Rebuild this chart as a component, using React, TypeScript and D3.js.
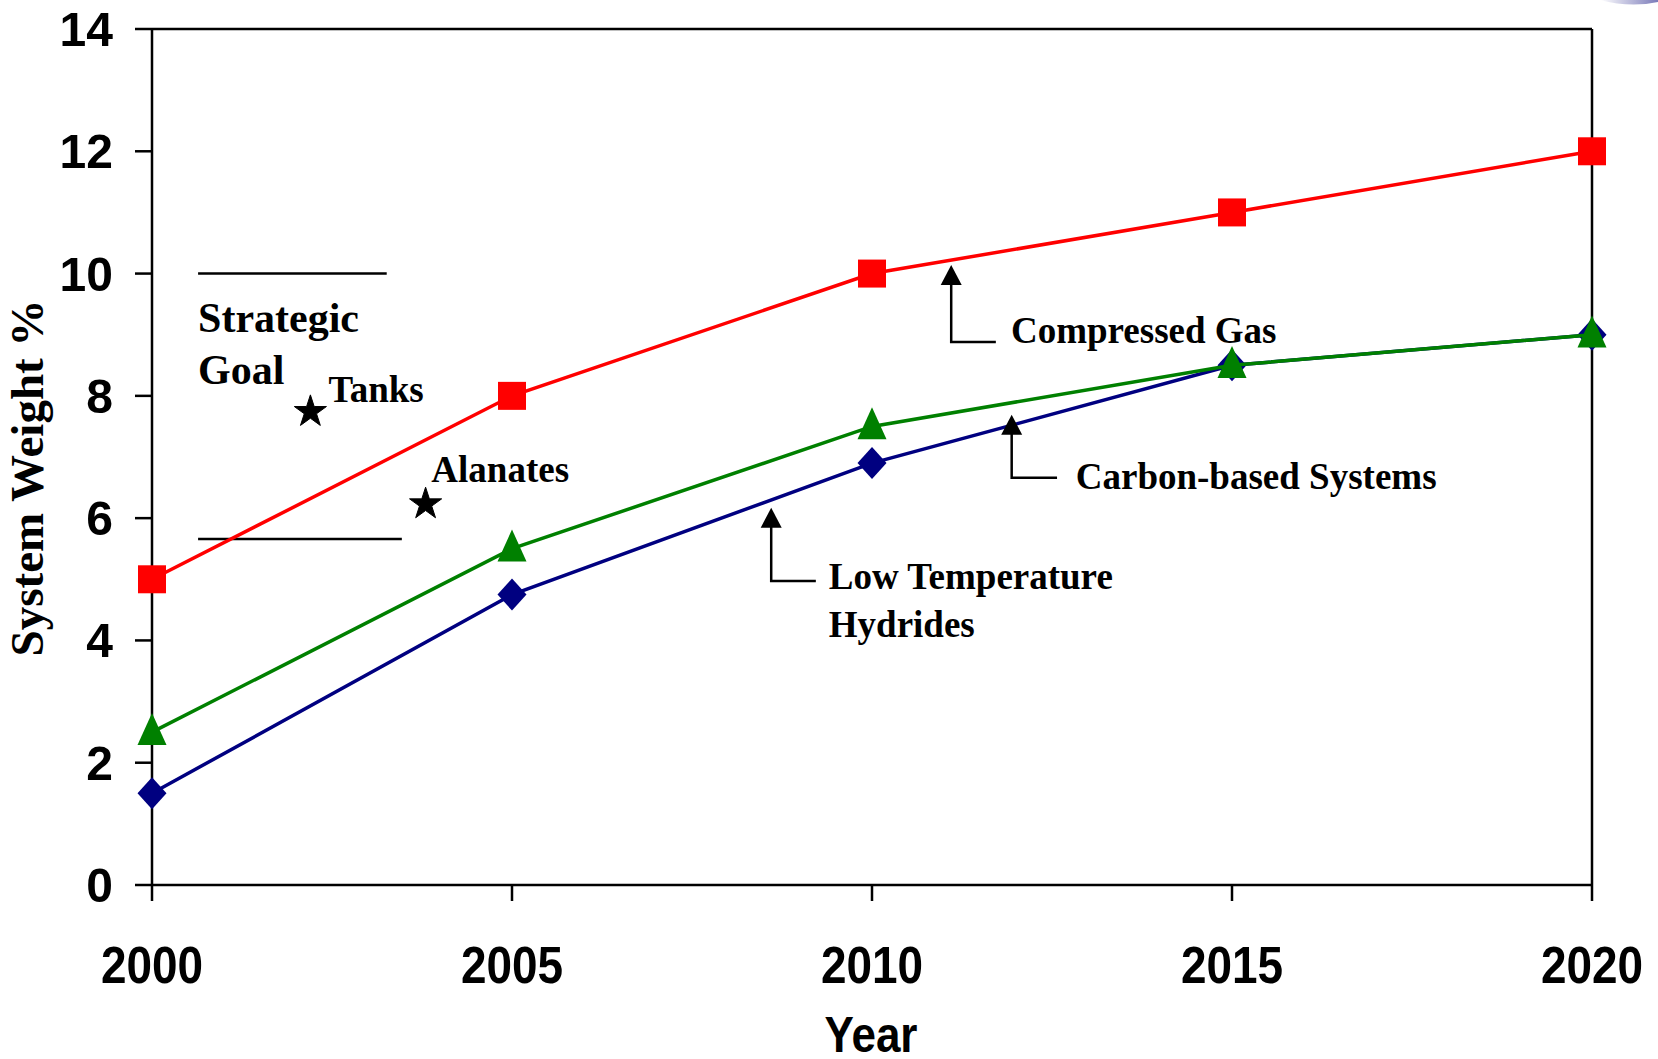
import React from "react";
import * as d3 from "d3";

// series values
const years = [2000, 2005, 2010, 2015, 2020];
const compressedGas = [5, 8, 10, 11, 12];
const carbonBased = [2.5, 5.5, 7.5, 8.5, 9];
const lowTempHydrides = [1.5, 4.75, 6.9, 8.5, 9];
const yTicks = [0, 2, 4, 6, 8, 10, 12, 14];

// strategic goal band and goal points
const goalBand = [10, 5.66];
const goalBandYears = [[2000.64, 2003.26], [2000.64, 2003.47]];
const goalStars = [
  { name: "Tanks", year: 2002.2, value: 7.74 },
  { name: "Alanates", year: 2003.8, value: 6.23 },
];

const width = 1658;
const height = 1059;
const margin = { left: 152, right: 66, top: 29, bottom: 174 };

const SANS = "'Liberation Sans', Arial, Helvetica, sans-serif";
const SERIF = "'Liberation Serif', 'Times New Roman', Times, serif";

const x = d3
  .scaleLinear()
  .domain([2000, 2020])
  .range([margin.left, width - margin.right]);
const y = d3
  .scaleLinear()
  .domain([0, 14])
  .range([height - margin.bottom, margin.top]);

const line = d3
  .line<number>()
  .x((d, i) => x(years[i]))
  .y((d) => y(d));

const square = (s: number) => `M${-s / 2},${-s / 2}h${s}v${s}h${-s}Z`;
const triangle = (w: number, h: number) =>
  `M0,${-h * 0.6}L${w / 2},${h * 0.4}L${-w / 2},${h * 0.4}Z`;
const diamond = (w: number, h: number) =>
  `M0,${-h / 2}L${w / 2},0L0,${h / 2}L${-w / 2},0Z`;
const star = d3.symbol(d3.symbolStar, 320)() as string;

const series = [
  { name: "Low Temperature Hydrides", values: lowTempHydrides, color: "#000080", marker: diamond(29, 32) },
  { name: "Carbon-based Systems", values: carbonBased, color: "#008000", marker: triangle(29, 32) },
  { name: "Compressed Gas", values: compressedGas, color: "#ff0000", marker: square(28) },
];

// arrow callouts: tip, elbow and label, all in data units
const callouts = [
  { tip: [2011.1, 10.14], elbowY: 8.88, endX: 2011.72, textX: 2011.93, lines: [["Compressed Gas", 8.86]] },
  { tip: [2011.94, 7.69], elbowY: 6.66, endX: 2012.57, textX: 2012.83, lines: [["Carbon-based Systems", 6.48]] },
  { tip: [2008.6, 6.17], elbowY: 4.97, endX: 2009.22, textX: 2009.4, lines: [["Low Temperature", 4.84], ["Hydrides", 4.06]] },
];

const Narrow = ({ x0, y0, size, sx, anchor, children }: any) => (
  <text
    transform={`translate(${x0},${y0}) scale(${sx},1)`}
    fontFamily={SANS}
    fontWeight="bold"
    fontSize={size}
    textAnchor={anchor}
    fill="#000"
  >
    {children}
  </text>
);

const App = () => {
  const x0 = x(2000);
  const x1 = x(2020);
  const y0 = y(0);
  const y1 = y(14);
  return (
    <svg
      width={width}
      height={height}
      style={{ position: "absolute", left: 0, top: 0, background: "#fff" }}
    >
      <defs>
        <linearGradient id="swoosh" x1="0" x2="1" y1="0" y2="0">
          <stop offset="0" stopColor="#ffffff" />
          <stop offset="1" stopColor="#5a5aa8" />
        </linearGradient>
      </defs>
      <path d={`M1600,0 Q1630,8 1658,2 L1658,0 Z`} fill="url(#swoosh)" opacity={0.8} />

      {/* frame */}
      <g stroke="#000" strokeWidth={2.5} fill="none">
        <line x1={x0} x2={x0} y1={y1} y2={y0} />
        <line x1={x0} x2={x1} y1={y1} y2={y1} />
        <line x1={x1} x2={x1} y1={y1} y2={y0} />
        <line x1={x0} x2={x1} y1={y0} y2={y0} />
        {yTicks.map((t) => (
          <line key={t} x1={x0 - 17} x2={x0} y1={y(t)} y2={y(t)} />
        ))}
        {years.map((t) => (
          <line key={t} x1={x(t)} x2={x(t)} y1={y0} y2={y0 + 16} />
        ))}
      </g>

      {yTicks.map((t) => (
        <Narrow key={t} x0={x0 - 39} y0={y(t) + 17} size={49} sx={0.98} anchor="end">
          {t}
        </Narrow>
      ))}
      {years.map((t) => (
        <Narrow key={t} x0={x(t)} y0={y0 + 98} size={51} sx={0.9} anchor="middle">
          {t}
        </Narrow>
      ))}
      <Narrow x0={871} y0={1052} size={50} sx={0.88} anchor="middle">
        Year
      </Narrow>
      <text
        transform={`translate(43,478) rotate(-90)`}
        fontFamily={SERIF}
        fontWeight="bold"
        fontSize={47}
        textAnchor="middle"
      >
        System Weight %
      </text>

      {/* strategic goal */}
      <g stroke="#000" strokeWidth={2.5}>
        {goalBand.map((v, i) => (
          <line key={i} x1={x(goalBandYears[i][0])} x2={x(goalBandYears[i][1])} y1={y(v)} y2={y(v)} />
        ))}
      </g>
      <g fontFamily={SERIF} fontWeight="bold">
        <text x={x(2000.64)} y={y(9.04)} fontSize={42}>Strategic</text>
        <text x={x(2000.64)} y={y(8.19)} fontSize={42}>Goal</text>
        <text x={x(2002.45)} y={y(7.9)} fontSize={37}>Tanks</text>
        <text x={x(2003.88)} y={y(6.59)} fontSize={37}>Alanates</text>
      </g>
      {goalStars.map((s) => (
        <path
          key={s.name}
          d={star}
          transform={`translate(${x(s.year)},${y(s.value)})`}
          fill="#000"
          stroke="#000"
          strokeWidth={1}
        />
      ))}

      {/* series */}
      {series.map((s) => (
        <g key={s.name}>
          <path d={line(s.values) as string} fill="none" stroke={s.color} strokeWidth={3.5} />
          {s.values.map((v, i) => (
            <path key={i} d={s.marker} transform={`translate(${x(years[i])},${y(v)})`} fill={s.color} />
          ))}
        </g>
      ))}

      {/* callouts */}
      {callouts.map((c, i) => {
        const tx = x(c.tip[0]);
        const ty = y(c.tip[1]);
        return (
          <g key={i}>
            <path
              d={`M${tx},${ty + 18}V${y(c.elbowY)}H${x(c.endX)}`}
              fill="none"
              stroke="#000"
              strokeWidth={2.5}
            />
            <path d={`M${tx},${ty}L${tx + 10.5},${ty + 20}L${tx - 10.5},${ty + 20}Z`} fill="#000" />
            {c.lines.map(([t, v]) => (
              <text
                key={t as string}
                x={x(c.textX)}
                y={y(v as number)}
                fontFamily={SERIF}
                fontWeight="bold"
                fontSize={37}
              >
                {t}
              </text>
            ))}
          </g>
        );
      })}
    </svg>
  );
};

export default App;
